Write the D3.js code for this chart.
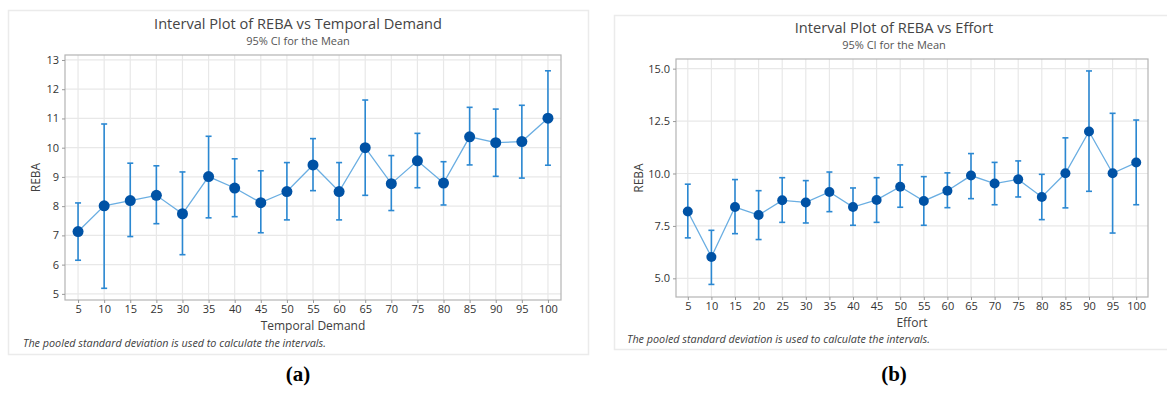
<!DOCTYPE html>
<html lang="en">
<head>
<meta charset="UTF-8">
<title>Interval Plots of REBA</title>
<script src="https://d3js.org/d3.v7.min.js"></script>
<style>
  body { margin: 0; background: #fff; }
  svg { display: block; }
  .title { font-family: "Open Sans", sans-serif; font-size: 14.6px; fill: #454545; }
  .subtitle { font-family: "Open Sans", sans-serif; font-size: 11px; fill: #555; }
  .tick text { font-family: "Open Sans", sans-serif; font-size: 11px; fill: #333; }
  .axis-label { font-family: "Open Sans", sans-serif; font-size: 12px; fill: #404040; }
  .note { font-family: "Open Sans", sans-serif; font-size: 10.8px; font-style: italic; fill: #404040; }
  .panel-tag { font-family: "Liberation Serif", serif; font-size: 21px; font-weight: bold; fill: #000; }
</style>
</head>
<body>
<svg width="1167" height="394"></svg>
<script>
// (a) REBA vs Temporal Demand
var tdCats  = ["5","10","15","25","30","35","40","45","50","55","60","65","70","75","80","85","90","95","100"];
var tdMean  = [7.13, 8.01, 8.19, 8.37, 7.74, 9.01, 8.62, 8.12, 8.50, 9.41, 8.50, 10.00, 8.77, 9.55, 8.79, 10.37, 10.17, 10.21, 11.01];
var tdLower = [6.15, 5.19, 6.96, 7.40, 6.34, 7.60, 7.64, 7.09, 7.53, 8.53, 7.53, 8.37, 7.85, 8.63, 8.04, 9.41, 9.02, 8.96, 9.40];
var tdUpper = [8.11, 10.81, 9.47, 9.38, 9.17, 10.39, 9.62, 9.21, 9.49, 10.31, 9.49, 11.63, 9.73, 10.49, 9.52, 11.38, 11.32, 11.45, 12.63];
var tdYTicks = [5, 6, 7, 8, 9, 10, 11, 12, 13];

// (b) REBA vs Effort
var efCats  = ["5","10","15","20","25","30","35","40","45","50","55","60","65","70","75","80","85","90","95","100"];
var efMean  = [8.19, 6.02, 8.40, 8.02, 8.72, 8.62, 9.12, 8.40, 8.74, 9.37, 8.69, 9.18, 9.90, 9.52, 9.72, 8.88, 10.01, 12.00, 10.01, 10.52];
var efLower = [6.93, 4.71, 7.13, 6.85, 7.67, 7.64, 8.18, 7.53, 7.67, 8.39, 7.53, 8.37, 8.80, 8.51, 8.88, 7.80, 8.36, 9.15, 7.16, 8.51];
var efUpper = [9.49, 7.29, 9.71, 9.18, 9.80, 9.66, 10.07, 9.31, 9.80, 10.41, 9.85, 10.03, 10.95, 10.53, 10.60, 9.96, 11.70, 14.89, 12.87, 12.55];
var efYTicks = [5.0, 7.5, 10.0, 12.5, 15.0];

var svg = d3.select("svg");

function drawPanel(opt) {
    var g = svg.append("g");

    // panel frame
    g.append("rect")
        .attr("x", opt.panel[0] + 0.5).attr("y", opt.panel[1] + 0.5)
        .attr("width", opt.panel[2]).attr("height", opt.panel[3])
        .attr("fill", "#fff").attr("stroke", "#ebebeb").attr("stroke-width", 1.5);

    var cx = opt.panel[0] + opt.panel[2] / 2;
    g.append("text").attr("class", "title")
        .attr("x", cx).attr("y", opt.titleY)
        .attr("text-anchor", "middle").text(opt.title);
    g.append("text").attr("class", "subtitle")
        .attr("x", cx).attr("y", opt.titleY + 16)
        .attr("text-anchor", "middle").text("95% CI for the Mean");

    var p = opt.plot; // left, top, right, bottom
    var x = d3.scalePoint().domain(opt.cats).range([p[0], p[2]]).padding(0.5);
    var y = d3.scaleLinear().domain(opt.yDomain).range([p[3], p[1]]);

    // grid
    g.append("g").selectAll("line").data(opt.cats).enter().append("line")
        .attr("x1", function(d) { return x(d); }).attr("x2", function(d) { return x(d); })
        .attr("y1", p[1]).attr("y2", p[3])
        .attr("stroke", "#e8e8e8").attr("stroke-width", 1.2);
    g.append("g").selectAll("line").data(opt.yTicks).enter().append("line")
        .attr("x1", p[0]).attr("x2", p[2])
        .attr("y1", function(d) { return y(d); }).attr("y2", function(d) { return y(d); })
        .attr("stroke", "#e8e8e8").attr("stroke-width", 1.2);

    // plot frame
    g.append("rect")
        .attr("x", p[0]).attr("y", p[1])
        .attr("width", p[2] - p[0]).attr("height", p[3] - p[1])
        .attr("fill", "none").attr("stroke", "#b4b4b4").attr("stroke-width", 1.2);

    // axes
    var xAxis = g.append("g")
        .attr("transform", "translate(0," + p[3] + ")")
        .call(d3.axisBottom(x).tickSize(3).tickPadding(2));
    var yAxis = g.append("g")
        .attr("transform", "translate(" + p[0] + ",0)")
        .call(d3.axisLeft(y).tickValues(opt.yTicks).tickFormat(opt.yFormat).tickSize(3).tickPadding(3));
    [xAxis, yAxis].forEach(function(a) {
        a.select(".domain").remove();
        a.selectAll(".tick line").attr("stroke", "#999");
    });

    // axis labels
    g.append("text").attr("class", "axis-label")
        .attr("x", (p[0] + p[2]) / 2).attr("y", opt.xLabelY)
        .attr("text-anchor", "middle").text(opt.xLabel);
    g.append("text").attr("class", "axis-label")
        .attr("transform", "translate(" + opt.yLabelX + "," + ((p[1] + p[3]) / 2) + ") rotate(-90)")
        .attr("text-anchor", "middle").attr("dy", "0.35em").text("REBA");

    var rows = opt.cats.map(function(c, i) {
        return { cat: c, mean: opt.mean[i], lo: opt.lower[i], hi: opt.upper[i] };
    });

    // error bars
    var bars = g.append("g").selectAll("g").data(rows).enter().append("g")
        .attr("stroke", "#2b88d2").attr("stroke-width", 1.6);
    bars.append("line")
        .attr("x1", function(d) { return x(d.cat); }).attr("x2", function(d) { return x(d.cat); })
        .attr("y1", function(d) { return y(d.lo); }).attr("y2", function(d) { return y(d.hi); });
    bars.append("line")
        .attr("x1", function(d) { return x(d.cat) - 3; }).attr("x2", function(d) { return x(d.cat) + 3; })
        .attr("y1", function(d) { return y(d.lo); }).attr("y2", function(d) { return y(d.lo); });
    bars.append("line")
        .attr("x1", function(d) { return x(d.cat) - 3; }).attr("x2", function(d) { return x(d.cat) + 3; })
        .attr("y1", function(d) { return y(d.hi); }).attr("y2", function(d) { return y(d.hi); });

    // connect line
    var line = d3.line()
        .x(function(d) { return x(d.cat); })
        .y(function(d) { return y(d.mean); });
    g.append("path").datum(rows)
        .attr("d", line)
        .attr("fill", "none").attr("stroke", "#6aaee2").attr("stroke-width", 1.3);

    // mean points
    g.append("g").selectAll("circle").data(rows).enter().append("circle")
        .attr("cx", function(d) { return x(d.cat); })
        .attr("cy", function(d) { return y(d.mean); })
        .attr("r", opt.r)
        .attr("fill", "#0052a5");

    g.append("text").attr("class", "note")
        .attr("x", opt.noteX).attr("y", opt.noteY)
        .text("The pooled standard deviation is used to calculate the intervals.");

    g.append("text").attr("class", "panel-tag")
        .attr("x", cx).attr("y", 381)
        .attr("text-anchor", "middle").text(opt.tag);
}

drawPanel({
    panel: [8, 10, 580, 344],
    title: "Interval Plot of REBA vs Temporal Demand",
    titleY: 29,
    plot: [65, 55, 561, 300],
    cats: tdCats, mean: tdMean, lower: tdLower, upper: tdUpper,
    yTicks: tdYTicks, yDomain: [4.79, 13.17], yFormat: d3.format("d"),
    xLabel: "Temporal Demand", xLabelY: 330, yLabelX: 36,
    noteX: 23, noteY: 347, r: 5.5, tag: "(a)"
});

drawPanel({
    panel: [614, 15, 560, 334],
    title: "Interval Plot of REBA vs Effort",
    titleY: 33,
    plot: [676, 59, 1148, 297],
    cats: efCats, mean: efMean, lower: efLower, upper: efUpper,
    yTicks: efYTicks, yDomain: [4.11, 15.46], yFormat: d3.format(".1f"),
    xLabel: "Effort", xLabelY: 327, yLabelX: 639,
    noteX: 627, noteY: 343, r: 5, tag: "(b)"
});
</script>
</body>
</html>
